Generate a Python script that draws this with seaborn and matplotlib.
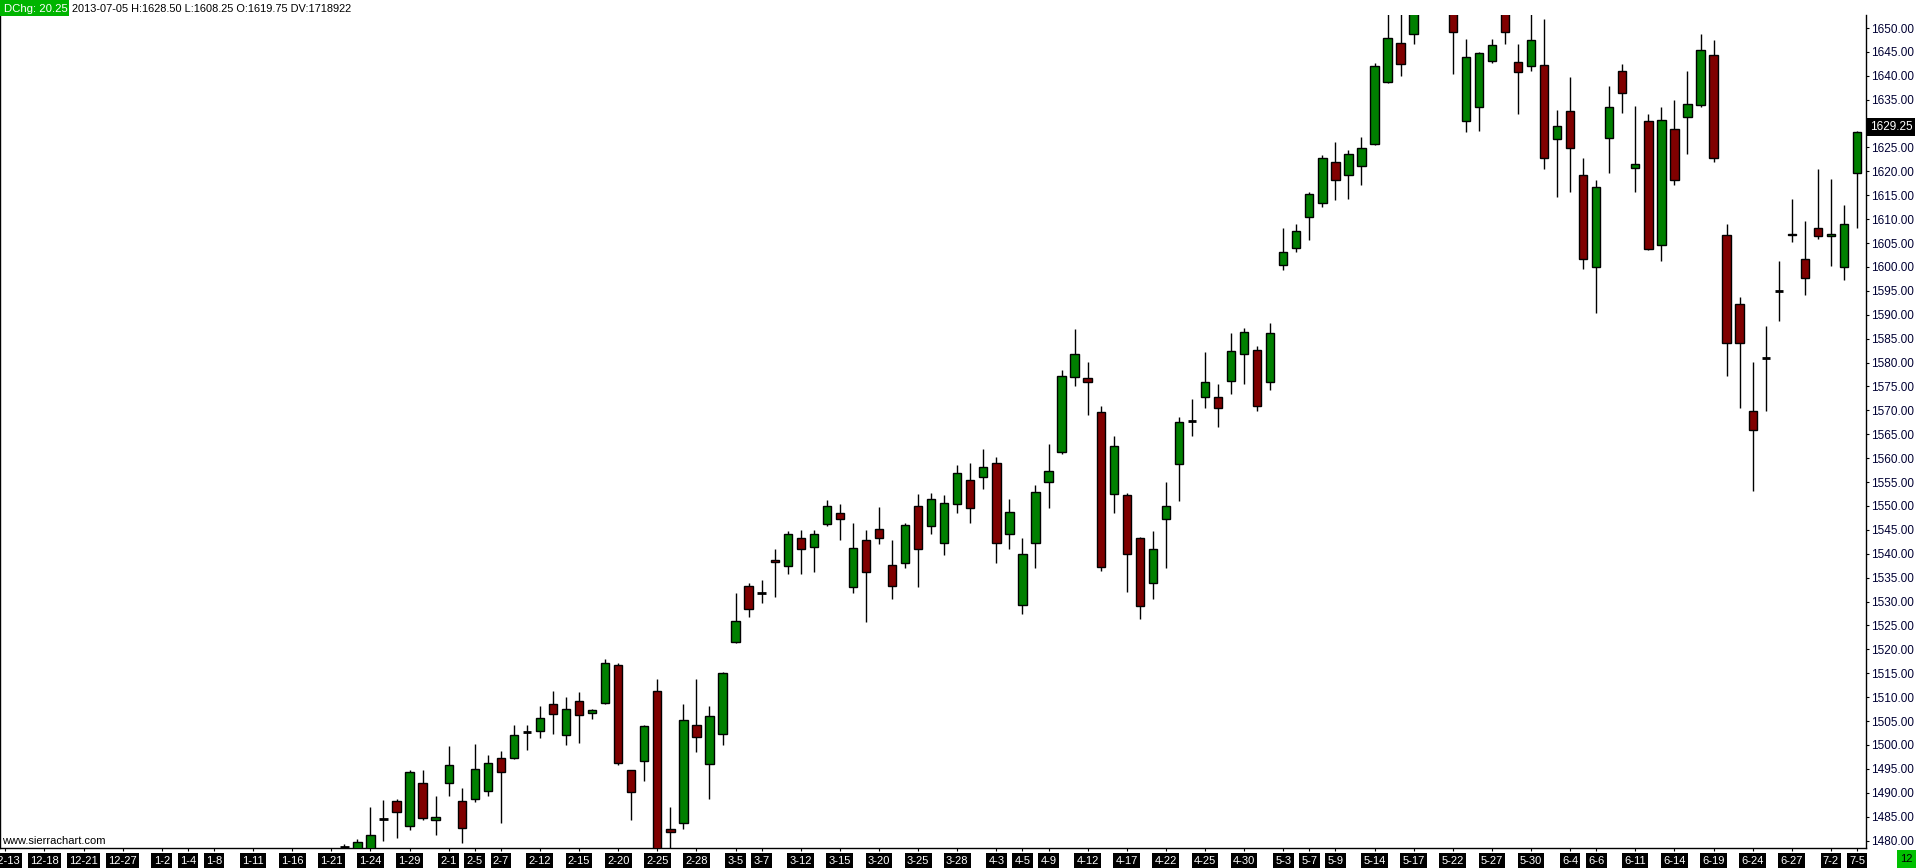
import numpy as np
import pandas as pd
import matplotlib
matplotlib.use("Agg")
import matplotlib.pyplot as plt
import seaborn as sns
from matplotlib.patches import Rectangle
from matplotlib import transforms

# trading sessions shown on the axis (closed days removed)
closed_days = ["2012-12-25", "2013-01-01", "2013-03-29", "2013-07-04"]
sessions = pd.bdate_range("2012-12-13", "2013-07-05").drop(pd.to_datetime(closed_days))
day_names = [f"{d.month}-{d.day}" for d in sessions]

tick_days = ["12-13", "12-18", "12-21", "12-27", "1-2", "1-4", "1-8", "1-11", "1-16",
             "1-21", "1-24", "1-29", "2-1", "2-5", "2-7", "2-12", "2-15", "2-20", "2-25",
             "2-28", "3-5", "3-7", "3-12", "3-15", "3-20", "3-25", "3-28", "4-3", "4-5",
             "4-9", "4-12", "4-17", "4-22", "4-25", "4-30", "5-3", "5-7", "5-9", "5-14",
             "5-17", "5-22", "5-27", "5-30", "6-4", "6-6", "6-11", "6-14", "6-19", "6-24",
             "6-27", "7-2", "7-5"]

# daily bars from 1-22 on (earlier ones sit below the visible price range)
first_bar = "1-22"
opens = [
    1478.6, 1477.0, 1476.5, 1484.5, 1488.2, 1483.1, 1492.0, 1484.4,
    1492.0, 1488.2, 1488.8, 1490.4, 1497.2, 1497.2, 1502.7, 1502.9,
    1508.5, 1502.0, 1509.3, 1506.6, 1508.7, 1516.7, 1494.7, 1496.6,
    1511.4, 1482.4, 1483.6, 1504.1, 1496.0, 1502.4, 1521.5, 1533.2,
    1531.8, 1538.8, 1537.5, 1543.2, 1541.5, 1546.3, 1548.5, 1533.1,
    1542.8, 1545.1, 1537.6, 1538.1, 1549.9, 1545.9, 1542.3, 1550.4,
    1555.4, 1556.0, 1558.9, 1544.1, 1529.2, 1542.2, 1555.0, 1561.4,
    1576.9, 1576.7, 1569.6, 1552.5, 1552.4, 1543.2, 1533.8, 1547.2,
    1558.7, 1567.8, 1572.7, 1572.7, 1576.1, 1581.9, 1582.6, 1575.9,
    1600.4, 1603.9, 1610.4, 1613.3, 1621.9, 1619.2, 1621.1, 1625.7,
    1638.8, 1646.8, 1648.7, 1658.0, 1656.5, 1660.0, 1630.5, 1633.4,
    1643.0, 1656.0, 1642.8, 1642.0, 1642.2, 1626.7, 1632.6, 1619.2,
    1600.1, 1626.9, 1641.1, 1620.8, 1630.5, 1604.7, 1628.8, 1631.3,
    1633.8, 1644.3, 1606.6, 1592.2, 1569.8, 1581.0, 1595.0, 1607.0,
    1601.6, 1608.1, 1606.4, 1599.9, 1619.75]
highs = [
    1479.2, 1480.3, 1487.0, 1488.5, 1488.6, 1494.7, 1494.7, 1489.3,
    1499.8, 1490.9, 1500.2, 1497.9, 1498.7, 1504.2, 1504.2, 1508.2,
    1511.3, 1510.0, 1511.0, 1507.6, 1518.0, 1517.1, 1494.8, 1504.2,
    1513.8, 1487.0, 1508.6, 1513.8, 1508.2, 1515.2, 1531.9, 1533.8,
    1534.5, 1541.0, 1544.7, 1545.0, 1545.0, 1551.3, 1550.4, 1546.4,
    1545.0, 1549.7, 1542.9, 1546.4, 1552.5, 1552.7, 1552.2, 1558.6,
    1558.9, 1561.9, 1560.3, 1551.5, 1543.2, 1554.4, 1563.0, 1578.5,
    1587.0, 1580.1, 1570.9, 1564.6, 1552.7, 1543.5, 1544.8, 1555.0,
    1568.6, 1572.4, 1582.2, 1575.5, 1586.2, 1587.2, 1583.5, 1588.3,
    1608.2, 1609.1, 1615.6, 1623.4, 1626.2, 1624.5, 1627.2, 1642.6,
    1655.0, 1654.5, 1659.0, 1662.0, 1664.0, 1673.0, 1647.8, 1644.9,
    1647.8, 1661.0, 1646.7, 1654.0, 1651.9, 1632.8, 1639.7, 1622.8,
    1618.2, 1637.9, 1642.5, 1633.7, 1632.1, 1633.4, 1634.9, 1641.0,
    1648.7, 1647.5, 1609.0, 1593.7, 1580.1, 1587.7, 1601.3, 1614.2,
    1609.6, 1620.5, 1618.4, 1613.0, 1628.5]
lows = [
    1475.0, 1475.5, 1474.5, 1480.0, 1480.6, 1482.3, 1484.4, 1481.2,
    1489.4, 1479.6, 1488.1, 1489.4, 1483.7, 1497.0, 1499.0, 1501.4,
    1502.4, 1500.1, 1500.5, 1505.5, 1508.6, 1495.9, 1484.4, 1492.5,
    1474.0, 1476.0, 1482.5, 1498.6, 1488.8, 1499.9, 1521.3, 1526.7,
    1529.8, 1531.0, 1535.8, 1535.8, 1536.2, 1545.8, 1542.9, 1531.8,
    1525.8, 1542.0, 1530.5, 1537.0, 1533.1, 1544.1, 1539.8, 1548.6,
    1546.5, 1553.6, 1538.1, 1540.9, 1527.3, 1537.1, 1549.6, 1560.9,
    1575.0, 1569.1, 1536.5, 1548.6, 1532.1, 1526.3, 1530.5, 1537.0,
    1551.0, 1564.7, 1570.6, 1566.6, 1573.5, 1575.5, 1569.9, 1574.3,
    1599.4, 1603.2, 1605.7, 1612.6, 1614.1, 1614.3, 1617.2, 1625.5,
    1638.4, 1640.0, 1646.6, 1654.0, 1653.5, 1640.4, 1628.3, 1628.5,
    1642.7, 1646.7, 1632.1, 1640.9, 1620.4, 1614.7, 1615.6, 1599.5,
    1590.4, 1619.7, 1632.3, 1615.6, 1603.6, 1601.3, 1617.2, 1623.6,
    1633.5, 1622.0, 1577.1, 1570.6, 1553.2, 1569.9, 1588.6, 1605.3,
    1594.2, 1605.9, 1600.3, 1597.3, 1608.25]
closes = [
    1478.6, 1479.8, 1481.1, 1484.5, 1485.9, 1494.3, 1484.8, 1484.9,
    1495.8, 1482.7, 1494.9, 1496.2, 1494.4, 1502.0, 1502.7, 1505.6,
    1506.4, 1507.5, 1506.2, 1507.4, 1517.1, 1496.2, 1490.1, 1503.9,
    1476.0, 1481.7, 1505.2, 1501.6, 1506.0, 1515.0, 1525.9, 1528.4,
    1531.8, 1538.3, 1544.1, 1540.9, 1544.1, 1549.9, 1547.3, 1541.2,
    1536.1, 1543.2, 1533.3, 1546.0, 1541.1, 1551.4, 1550.6, 1556.8,
    1549.5, 1558.1, 1542.2, 1548.7, 1539.9, 1552.9, 1557.3, 1577.1,
    1581.9, 1575.9, 1537.2, 1562.5, 1539.9, 1529.1, 1541.1, 1550.1,
    1567.5, 1567.8, 1575.9, 1570.4, 1582.4, 1586.3, 1570.9, 1586.1,
    1603.1, 1607.5, 1615.2, 1622.7, 1618.3, 1623.6, 1624.8, 1642.0,
    1648.0, 1642.4, 1658.0, 1656.5, 1660.0, 1649.1, 1643.9, 1644.7,
    1646.4, 1649.2, 1640.7, 1647.4, 1622.7, 1629.6, 1624.8, 1601.6,
    1616.8, 1633.4, 1636.3, 1621.5, 1603.8, 1630.7, 1618.3, 1634.0,
    1645.5, 1622.7, 1584.2, 1584.2, 1565.8, 1581.0, 1595.0, 1606.6,
    1597.8, 1606.4, 1607.0, 1609.0, 1628.25]

last_price = 1629.25
last_volume = 1718922
chart_number = "12"

W, H = 1916, 868
sns.set_theme(style="white")
plt.rcParams["font.family"] = ["Liberation Sans", "DejaVu Sans"]

fig = plt.figure(figsize=(W / 100, H / 100), dpi=100)
fig.patch.set_facecolor("white")
ax = fig.add_axes([0, 20 / H, 1866 / W, 833 / H])
ax.set_facecolor("white")

o = np.array(opens)
h = np.array(highs)
l = np.array(lows)
c = np.array(closes)
start = day_names.index(first_bar)
x = np.arange(start, start + len(o))

ax.vlines(x, l, h, color="black", lw=1.0, zorder=2)
doji = o == c
body = ~doji
cols = np.where(c > o, "#008000", "#800000")
ax.bar(x[body], np.abs(c - o)[body], bottom=np.minimum(o, c)[body], width=0.64,
       color=cols[body], edgecolor="black", linewidth=1.0, zorder=3)
ax.hlines(o[doji], x[doji] - 0.32, x[doji] + 0.32, color="black", lw=2.0, zorder=3)

n_last = len(day_names) - 1
ax.set_xlim(n_last - 1857 / 13.04, n_last + 9 / 13.04)
ax.set_ylim(1478.45, 1652.72)

for s in ["left", "right", "bottom"]:
    ax.spines[s].set_visible(True)
    ax.spines[s].set_color("black")
    ax.spines[s].set_linewidth(1.0)
ax.spines["top"].set_visible(False)

ax.yaxis.tick_right()
ax.set_yticks(np.arange(1480, 1651, 5))
ax.set_yticklabels([f"{v:.2f}" for v in np.arange(1480, 1651, 5)])
ax.tick_params(axis="y", which="both", right=True, left=False, direction="out",
               length=2.5, width=0.8, pad=1, labelsize=8.5, labelcolor="#000033",
               color="black")

ax.set_xticks([day_names.index(d) for d in tick_days])
ax.set_xticklabels(tick_days)
ax.tick_params(axis="x", bottom=True, direction="out", length=2, width=0.8, pad=3.5,
               labelsize=8, labelcolor="white", color="black")
for lab in ax.get_xticklabels():
    lab.set_bbox(dict(facecolor="black", edgecolor="none", pad=1.6))

# last price marker on the price scale
blend = transforms.blended_transform_factory(ax.transAxes, ax.transData)
ax.text(1 + 4 / 1866, last_price, f"{last_price:.2f}", transform=blend, ha="left",
        va="center", fontsize=8.5, color="white", clip_on=False, zorder=6,
        bbox=dict(facecolor="black", edgecolor="none", pad=2.0))

# header line
dchg = last_price - closes[-2]
fig.patches.append(Rectangle((0, 1 - 16 / H), 69 / W, 16 / H, transform=fig.transFigure,
                             facecolor="#00B400", edgecolor="none", zorder=5))
fig.text(4 / W, 1 - 8.5 / H, f"DChg: {dchg:.2f}", color="white", fontsize=8.2,
         ha="left", va="center", zorder=6)
fig.text(72 / W, 1 - 8.5 / H,
         f"{sessions[-1]:%Y-%m-%d} H:{highs[-1]:.2f} L:{lows[-1]:.2f} "
         f"O:{opens[-1]:.2f} DV:{last_volume}",
         color="black", fontsize=7.9, ha="left", va="center", zorder=6)

fig.text(2 / W, 1 - 841 / H, "www.sierrachart.com", color="black", fontsize=8,
         ha="left", va="center", zorder=6)

fig.patches.append(Rectangle((1897 / W, 0), 19 / W, 18 / H, transform=fig.transFigure,
                             facecolor="#00C000", edgecolor="none", zorder=5))
fig.text(1906.5 / W, 9 / H, chart_number, color="black", fontsize=8, ha="center",
         va="center", zorder=6)

fig.savefig("out.png", dpi=100)
